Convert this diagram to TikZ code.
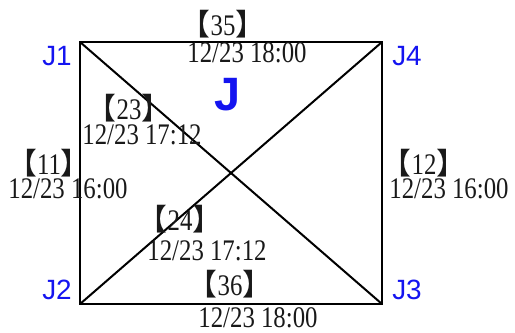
\documentclass[tikz,border=0pt]{standalone}
\usepackage{fontspec}
\newfontfamily\numfont[FakeStretch=0.83]{Liberation Serif}
\newfontfamily\cjk{Noto Sans CJK SC}
\newfontfamily\lblfont{Liberation Sans}
\definecolor{jblue}{RGB}{20,20,240}
\newcommand{\brk}[1]{{\cjk 【}#1{\cjk 】}}
\tikzset{
  edge/.style={line width=2bp, black},
  num/.style={inner sep=0pt, text=black!90, font=\fontsize{30}{30}\selectfont\numfont},
  jlabel/.style={inner sep=0pt, text=jblue, font=\fontsize{28}{28}\selectfont\lblfont},
}
\begin{document}
\begin{tikzpicture}[x=1bp,y=-1bp]
\useasboundingbox (0,0) rectangle (515,332);
\coordinate (J1c) at (80,42);
\coordinate (J4c) at (382,42);
\coordinate (J2c) at (80,304);
\coordinate (J3c) at (382,304);
\draw[edge] (J1c) -- (J4c) -- (J3c) -- (J2c) -- cycle;
\draw[edge] (J1c) -- (J3c);
\draw[edge] (J2c) -- (J4c);
\node[jlabel] (J1) at (57,56) {J1};
\node[jlabel] (J4) at (407,56) {J4};
\node[jlabel] (J2) at (57,290) {J2};
\node[jlabel] (J3) at (407,290) {J3};
\node[inner sep=0pt, text=jblue, font=\fontsize{47}{47}\selectfont\lblfont\bfseries] (J) at (228,95) {J};
\node[num] (b35) at (223,24) {\brk{35}};
\node[num] (t35) at (247,53) {12/23 18:00};
\node[num] (b23) at (129,108) {\brk{23}};
\node[num] (t23) at (142,135) {12/23 17:12};
\node[num] (b11) at (49,163) {\brk{11}};
\node[num] (t11) at (68,189) {12/23 16:00};
\node[num] (b12) at (424,163) {\brk{12}};
\node[num] (t12) at (449,189) {12/23 16:00};
\node[num] (b24) at (180,219) {\brk{24}};
\node[num] (t24) at (207,251) {12/23 17:12};
\node[num] (b36) at (230,284) {\brk{36}};
\node[num] (t36) at (258,318) {12/23 18:00};
\end{tikzpicture}
\end{document}
